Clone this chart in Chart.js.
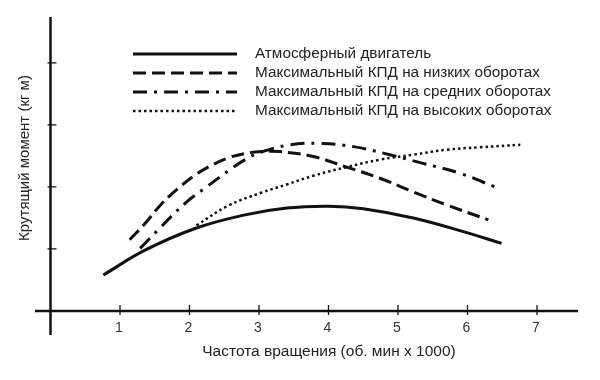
<!DOCTYPE html>
<html>
<head>
<meta charset="utf-8">
<script src="https://cdn.jsdelivr.net/npm/chart.js@4"></script>
<style>
  html, body { margin: 0; padding: 0; background: #fff; }
  #wrap { width: 600px; height: 380px; }
</style>
</head>
<body>
<div id="wrap"><canvas id="c" width="600" height="380"></canvas></div>
<script>
// ---- Data (rpm x1000 vs torque, arbitrary units) ----
const seriesLabels = [
  'Атмосферный двигатель',
  'Максимальный КПД на низких оборотах',
  'Максимальный КПД на средних оборотах',
  'Максимальный КПД на высоких оборотах'
];
const rpmAtmo = [0.76, 1.36, 2.08, 2.8, 3.4, 4.0, 4.5, 5.22, 5.94, 6.49];
const torqueAtmo = [0.58, 0.98, 1.33, 1.55, 1.66, 1.69, 1.65, 1.50, 1.28, 1.09];
const rpmLow = [1.14, 1.36, 1.6, 1.84, 2.08, 2.32, 2.56, 2.8, 3.04, 3.3, 3.78, 4.26, 4.74, 5.22, 5.7, 6.3];
const torqueLow = [1.15, 1.41, 1.73, 1.98, 2.19, 2.35, 2.47, 2.54, 2.57, 2.57, 2.49, 2.32, 2.14, 1.92, 1.71, 1.47];
const rpmMid = [1.29, 1.55, 1.94, 2.22, 2.61, 2.8, 3.0, 3.45, 3.88, 4.36, 4.88, 5.36, 5.89, 6.4];
const torqueMid = [1.01, 1.31, 1.74, 1.98, 2.30, 2.44, 2.55, 2.68, 2.70, 2.65, 2.52, 2.38, 2.22, 2.0];
const rpmHigh = [2.1, 2.56, 3.04, 3.4, 3.78, 4.26, 4.74, 5.22, 5.7, 6.18, 6.76];
const torqueHigh = [1.38, 1.70, 1.91, 2.04, 2.18, 2.32, 2.44, 2.52, 2.60, 2.64, 2.68];
const xTicks = [1, 2, 3, 4, 5, 6, 7];
const yTicks = [1, 2, 3, 4];
const xTitle = 'Частота вращения (об. мин x 1000)';
const yTitle = 'Крутящий момент (кг м)';

const INK = '#111';
const FONT = "'Liberation Sans', Arial, sans-serif";

function pts(xs, ys) { return xs.map((x, i) => ({ x: x, y: ys[i] })); }

const styles = [
  { width: 3, dash: [] },
  { width: 3, dash: [13, 6] },
  { width: 3, dash: [14, 7, 3, 7] },
  { width: 2.5, dash: [2.5, 3] }
];

const seriesData = [pts(rpmAtmo, torqueAtmo), pts(rpmLow, torqueLow), pts(rpmMid, torqueMid), pts(rpmHigh, torqueHigh)];

const datasets = seriesData.map((d, i) => ({
  label: seriesLabels[i],
  data: d,
  borderColor: INK,
  backgroundColor: INK,
  borderWidth: styles[i].width,
  borderDash: styles[i].dash,
  pointRadius: 0,
  tension: 0.4,
  fill: false
}));

const axesPlugin = {
  id: 'axesPlugin',
  afterDraw(chart) {
    const { ctx, chartArea } = chart;
    const xs = chart.scales.x, ys = chart.scales.y;
    const x0 = xs.getPixelForValue(0);
    const y0 = ys.getPixelForValue(0);
    ctx.save();
    ctx.strokeStyle = INK;
    ctx.lineCap = 'butt';
    // axes lines
    ctx.lineWidth = 2.5;
    ctx.beginPath();
    ctx.moveTo(chartArea.left, y0); ctx.lineTo(chartArea.right, y0);
    ctx.moveTo(x0, chartArea.top); ctx.lineTo(x0, chartArea.bottom);
    ctx.stroke();
    // tick marks
    ctx.lineWidth = 1.3;
    ctx.beginPath();
    xTicks.forEach(v => {
      const px = xs.getPixelForValue(v);
      ctx.moveTo(px, y0 - 6); ctx.lineTo(px, y0 + 4);
    });
    yTicks.forEach(v => {
      const py = ys.getPixelForValue(v);
      ctx.moveTo(x0 - 3, py); ctx.lineTo(x0 + 6, py);
    });
    ctx.stroke();
    // tick labels
    ctx.fillStyle = '#333';
    ctx.font = '14px ' + FONT;
    ctx.textAlign = 'center';
    ctx.textBaseline = 'middle';
    xTicks.forEach(v => {
      ctx.fillText(String(v), xs.getPixelForValue(v) - 1, y0 + 17);
    });
    // titles
    ctx.fillStyle = '#222';
    ctx.font = '15.5px ' + FONT;
    ctx.fillText(xTitle, 329, y0 + 41);
    ctx.save();
    ctx.translate(25, 158);
    ctx.rotate(-Math.PI / 2);
    ctx.font = '15px ' + FONT;
    ctx.fillText(yTitle, 0, 0);
    ctx.restore();
    // legend
    const lx1 = 133, lx2 = 237, tx = 255;
    const rows = [54, 73, 92, 111];
    ctx.textAlign = 'left';
    ctx.font = '15.3px ' + FONT;
    chart.data.datasets.forEach((ds, i) => {
      ctx.save();
      ctx.lineWidth = ds.borderWidth;
      ctx.setLineDash(ds.borderDash);
      ctx.strokeStyle = ds.borderColor;
      ctx.beginPath();
      ctx.moveTo(lx1, rows[i]); ctx.lineTo(lx2, rows[i]);
      ctx.stroke();
      ctx.restore();
      ctx.fillStyle = '#222';
      ctx.fillText(ds.label, tx, rows[i]);
    });
    ctx.restore();
  }
};

new Chart(document.getElementById('c'), {
  type: 'line',
  data: { datasets: datasets },
  options: {
    responsive: false,
    animation: false,
    devicePixelRatio: 1,
    layout: { padding: { left: 35, right: 22, top: 17, bottom: 45 } },
    plugins: { legend: { display: false }, tooltip: { enabled: false } },
    scales: {
      x: { type: 'linear', min: -0.223, max: 7.59, display: false },
      y: { type: 'linear', min: -0.387, max: 4.74, display: false }
    }
  },
  plugins: [axesPlugin]
});
</script>
</body>
</html>
